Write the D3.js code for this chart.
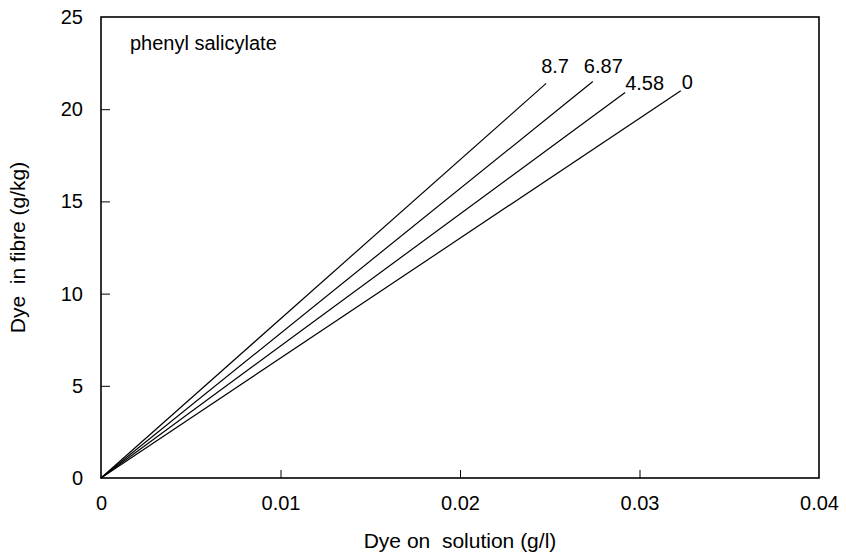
<!DOCTYPE html>
<html>
<head>
<meta charset="utf-8">
<script src="https://cdn.jsdelivr.net/npm/d3@7"></script>
<style>
	body { margin: 0; background: #fff; }
	text { font-family: 'Liberation Sans', Arial, sans-serif; fill: #000; }
</style>
</head>
<body>
<svg id="chart" width="846" height="555"></svg>
<script>
// Data
const conc = ['8.7', '6.87', '4.58', '0'];
const endX = [0.0248, 0.0274, 0.0292, 0.0323];
const endY = [21.4, 21.5, 20.9, 21.0];
const xTicks = [0, 0.01, 0.02, 0.03, 0.04];
const yTicks = [0, 5, 10, 15, 20, 25];

// label offsets relative to line end
const labelDx = [-5, -9, 0, 1];
const labelDy = [-10, -9, -3, -2];

// Measurements
const margin = { top: 17, right: 27, bottom: 77, left: 101 };
const width = 846 - (margin.left + margin.right);
const height = 555 - (margin.top + margin.bottom);

const svg = d3.select('#chart');
const g = svg.append('g').attr('transform', `translate(${margin.left}, ${margin.top})`);

// Scales
const xscale = d3.scaleLinear().domain([0, 0.04]).range([0, width]);
const yscale = d3.scaleLinear().domain([0, 25]).range([height, 0]);

// Axes (ticks pointing inward)
const bottomAxis = d3.axisBottom(xscale)
	.tickValues(xTicks)
	.tickSize(-8)
	.tickPadding(18)
	.tickFormat((d) => (d === 0 ? '0' : d3.format('.2f')(d)));
const leftAxis = d3.axisLeft(yscale)
	.tickValues(yTicks)
	.tickSize(-9)
	.tickPadding(18)
	.tickFormat(d3.format('d'));

const xg = g.append('g').attr('transform', `translate(0, ${height})`).call(bottomAxis);
const yg = g.append('g').call(leftAxis);

[xg, yg].forEach((a) => {
	a.select('.domain').remove();
	a.selectAll('line').attr('stroke', '#000').attr('stroke-width', 1);
	a.selectAll('text').style('font-size', '20px').attr('font-family', "'Liberation Sans', Arial, sans-serif");
});
// hide edge ticks that overlap the frame
xg.selectAll('.tick').filter((d) => d === 0 || d === 0.04).select('line').remove();
yg.selectAll('.tick').filter((d) => d === 0 || d === 25).select('line').remove();

// Frame
g.append('rect')
	.attr('x', 0)
	.attr('y', 0)
	.attr('width', width)
	.attr('height', height)
	.attr('fill', 'none')
	.attr('stroke', '#000')
	.attr('stroke-width', 1.6);

// Lines
const lines = conc.map((c, i) => ({ c, x: endX[i], y: endY[i], i }));

g.selectAll('line.series')
	.data(lines)
	.enter()
	.append('line')
	.attr('class', 'series')
	.attr('x1', xscale(0))
	.attr('y1', yscale(0))
	.attr('x2', (d) => xscale(d.x))
	.attr('y2', (d) => yscale(d.y))
	.attr('stroke', '#000')
	.attr('stroke-width', 1.2);

g.selectAll('text.lab')
	.data(lines)
	.enter()
	.append('text')
	.attr('class', 'lab')
	.attr('x', (d) => xscale(d.x) + labelDx[d.i])
	.attr('y', (d) => yscale(d.y) + labelDy[d.i])
	.style('font-size', '20px')
	.text((d) => d.c);

// Annotation
g.append('text')
	.attr('x', 29)
	.attr('y', 33)
	.style('font-size', '20px')
	.text('phenyl salicylate');

// Axis titles
svg.append('text')
	.attr('x', margin.left + width / 2)
	.attr('y', 548)
	.attr('text-anchor', 'middle')
	.style('font-size', '21px')
	.style('white-space', 'pre')
	.text('Dye on  solution (g/l)');

svg.append('text')
	.attr('transform', `translate(25, ${margin.top + height / 2}) rotate(-90)`)
	.attr('text-anchor', 'middle')
	.style('font-size', '21px')
	.style('white-space', 'pre')
	.text('Dye  in fibre (g/kg)');
</script>
</body>
</html>
